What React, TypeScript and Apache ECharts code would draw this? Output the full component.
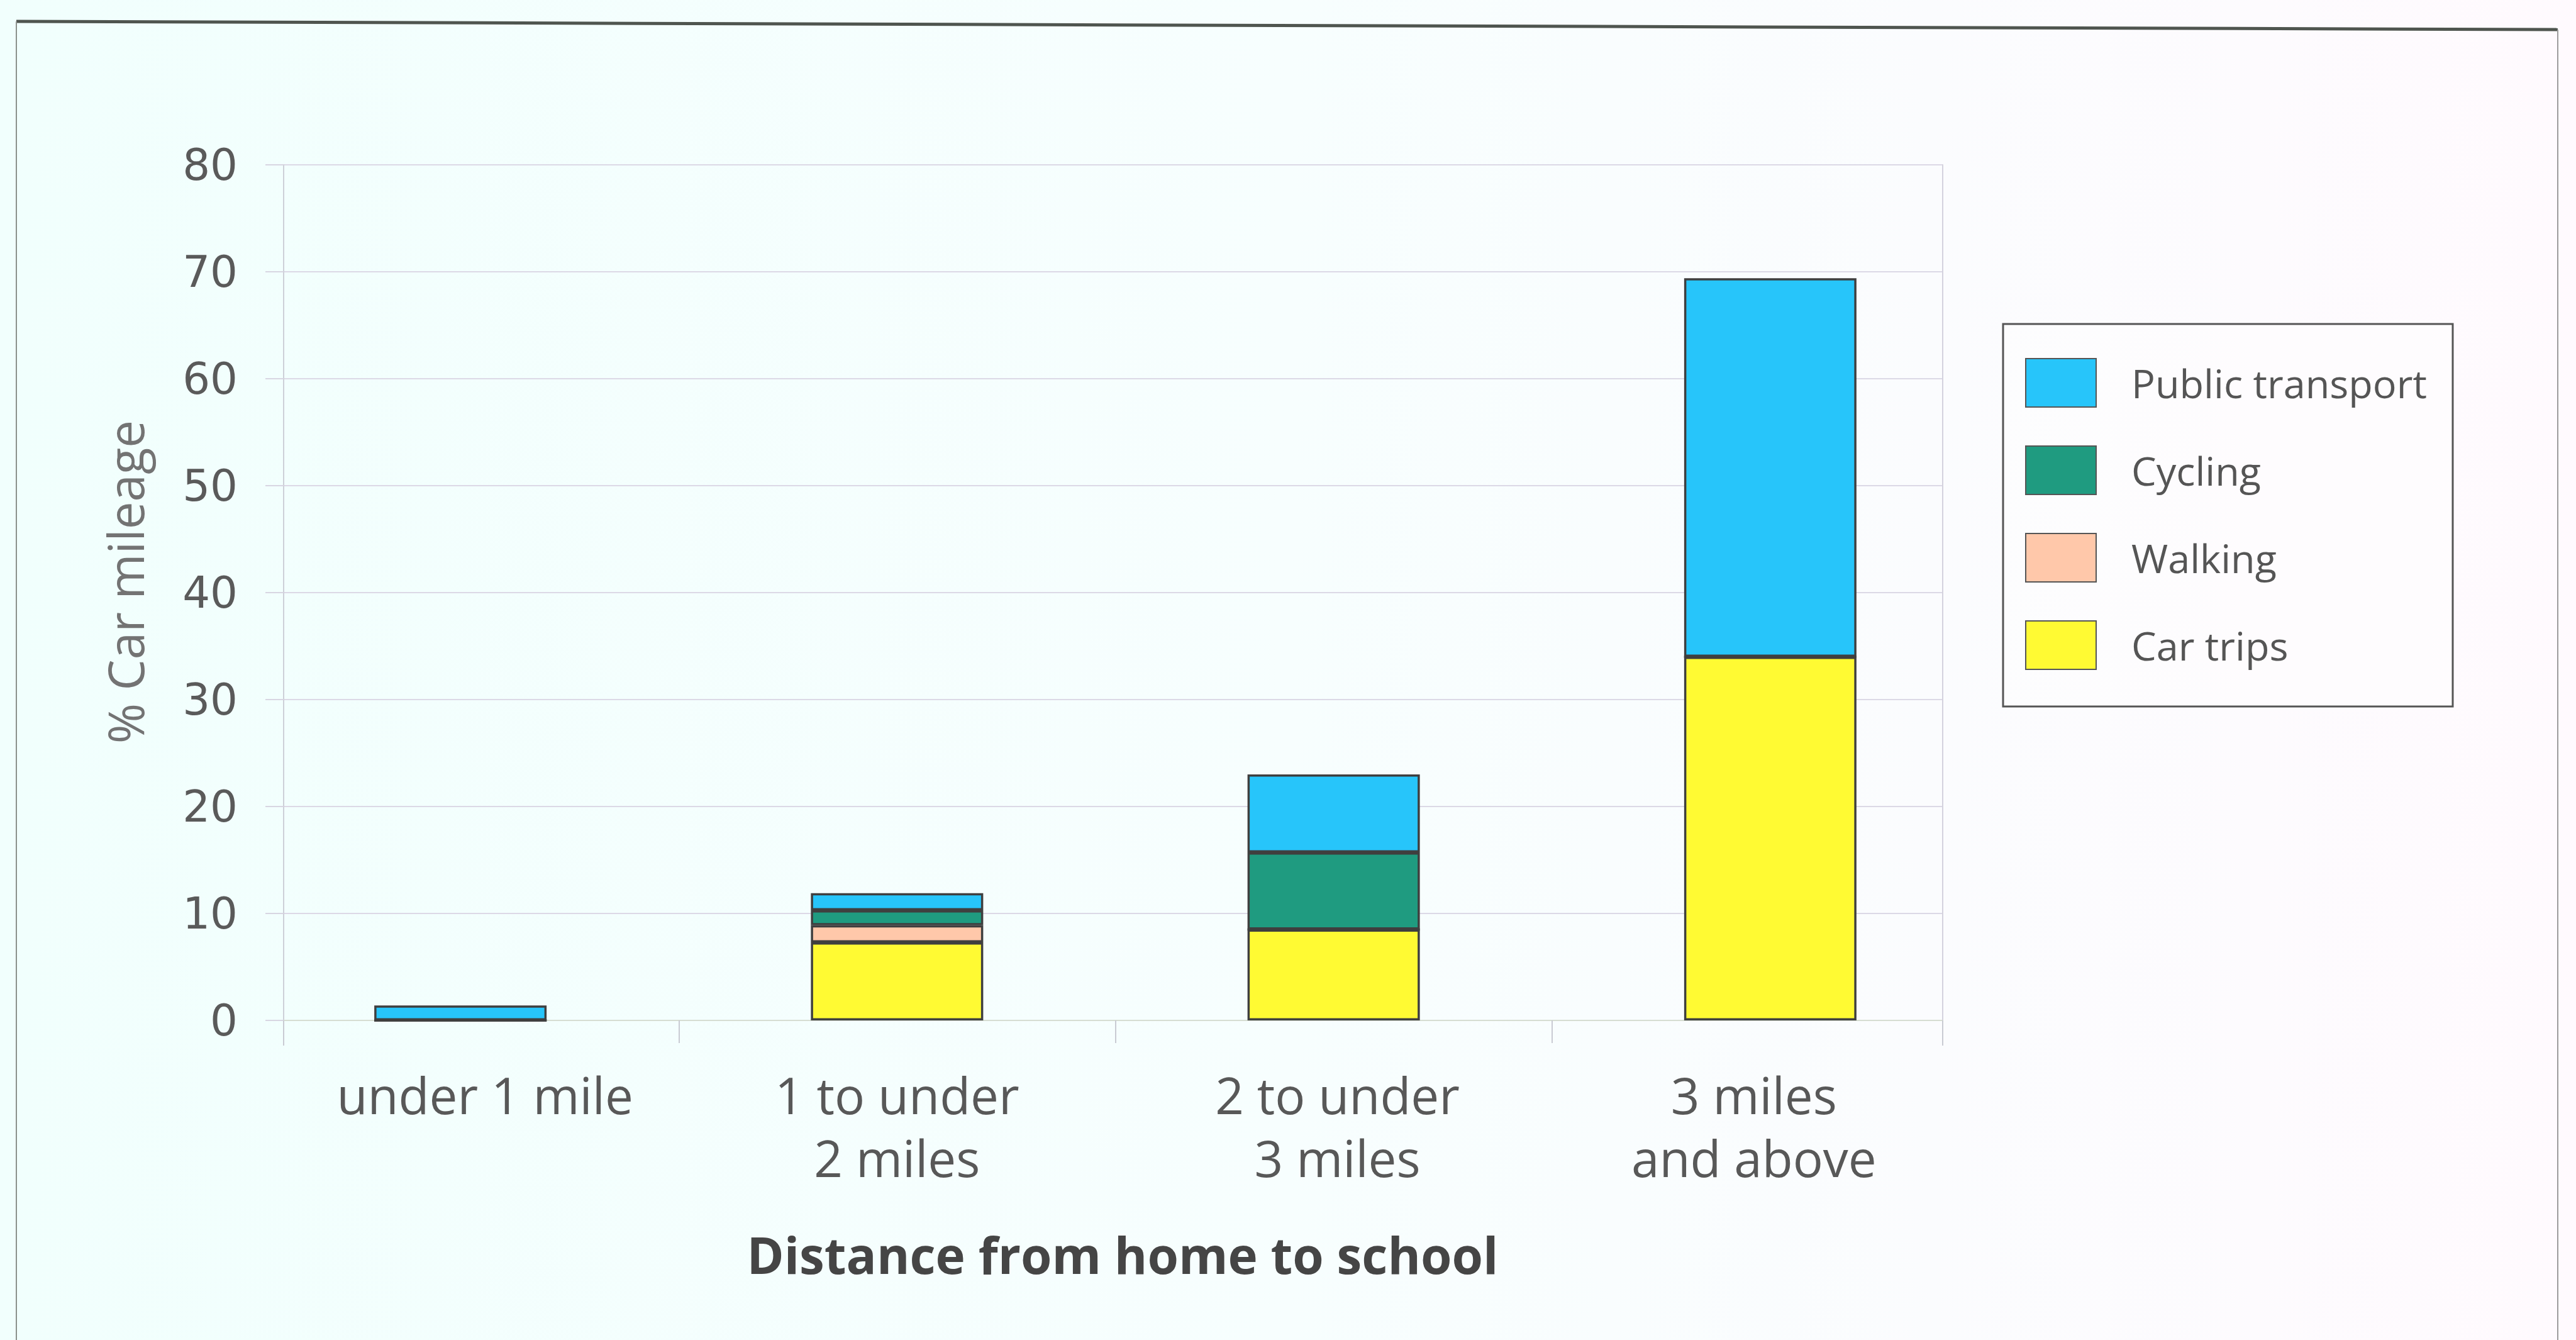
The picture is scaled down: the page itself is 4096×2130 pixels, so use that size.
import React, { useEffect, useRef } from "react";
import * as echarts from "echarts";

// Distance bands (x axis)
const categories = [
  "under 1 mile",
  "1 to under\n2 miles",
  "2 to under\n3 miles",
  "3 miles\nand above",
];

// % of car mileage, stacked from the bottom up
const carTrips = [0, 7.3, 8.5, 34.0];
const walking = [0, 1.6, 0, 0];
const cycling = [0, 1.4, 7.2, 0];
const publicTransport = [1.4, 1.6, 7.3, 35.4];

const legendOrder = ["Public transport", "Cycling", "Walking", "Car trips"];

const yMin = 0;
const yMax = 80;
const yStep = 10;

// horizontal nudge of each category label (px, + = right)
const labelShift = [39, 0, 6, -26];

const FONT = "'Open Sans', 'DejaVu Sans', sans-serif";
const BORDER = "#3f3f3f";

export default function App() {
  const ref = useRef<HTMLDivElement>(null);

  useEffect(() => {
    if (!ref.current) return;
    const chart = echarts.init(ref.current, undefined, { renderer: "svg" });

    const barSeries = (name: string, data: number[], color: string) => ({
      name,
      type: "bar",
      stack: "mileage",
      xAxisIndex: 1,
      yAxisIndex: 2,
      data,
      barWidth: 274,
      itemStyle: { color, borderColor: BORDER, borderWidth: 3.5 },
      emphasis: { disabled: true },
    });

    const categoryData = categories.map((c, i) => {
      const s = labelShift[i];
      return {
        value: c,
        textStyle: {
          padding: s >= 0 ? [0, 0, 0, 2 * s] : [0, -2 * s, 0, 0],
        },
      };
    });

    chart.setOption({
      animation: false,
      backgroundColor: {
        type: "linear",
        x: 0,
        y: 0,
        x2: 1,
        y2: 0,
        colorStops: [
          { offset: 0, color: "#F1FFFD" },
          { offset: 0.5, color: "#F7FEFE" },
          { offset: 1, color: "#FFFAFE" },
        ],
      },
      grid: [
        // frame for gridlines and value axis
        { left: 451, right: 1007, top: 262, bottom: 508, outerBoundsMode: "none" },
        // band layout for the bars
        { left: 385, right: 934, top: 262, bottom: 508, outerBoundsMode: "none" },
      ],
      xAxis: [
        {
          gridIndex: 0,
          type: "value",
          position: "bottom",
          min: 0,
          max: 1,
          axisLine: { show: true, lineStyle: { color: "#D6DDD2", width: 2 } },
          axisTick: {
            show: true,
            customValues: [0, 1],
            length: 40,
            lineStyle: { color: "#C9CBD3", width: 2 },
          },
          axisLabel: { show: false },
          splitLine: { show: false },
        },
        {
          gridIndex: 1,
          type: "category",
          position: "bottom",
          data: categoryData,
          axisLine: { show: false },
          axisTick: { show: false },
          axisLabel: {
            fontFamily: FONT,
            fontSize: 80,
            lineHeight: 100,
            color: "#585858",
            margin: 67,
            interval: 0,
          },
        },
        {
          gridIndex: 1,
          type: "value",
          position: "bottom",
          min: 0,
          max: 4,
          axisLine: { show: false },
          axisTick: {
            show: true,
            customValues: [1, 2, 3],
            length: 36,
            lineStyle: { color: "#C9CBD3", width: 2 },
          },
          axisLabel: { show: false },
          splitLine: { show: false },
        },
      ],
      yAxis: [
        {
          gridIndex: 0,
          type: "value",
          position: "left",
          min: yMin,
          max: yMax,
          interval: yStep,
          name: "% Car mileage",
          nameLocation: "middle",
          nameRotate: 90,
          nameGap: 213,
          nameTextStyle: {
            fontFamily: FONT,
            fontSize: 78,
            color: "#737373",
            padding: [0, 0, 0, 34],
          },
          axisLine: { show: true, lineStyle: { color: "#CDD0D8", width: 2 } },
          axisTick: { show: true, length: 29, lineStyle: { color: "#D8D6E2", width: 2 } },
          axisLabel: {
            fontFamily: "'DejaVu Sans', sans-serif",
            fontSize: 69,
            color: "#5a5a5a",
            margin: 73,
          },
          splitLine: { show: true, lineStyle: { color: "#DCD9E6", width: 2 } },
        },
        {
          gridIndex: 0,
          type: "value",
          position: "right",
          min: yMin,
          max: yMax,
          axisLine: { show: true, lineStyle: { color: "#D4D2DE", width: 2 } },
          axisTick: { show: false },
          axisLabel: { show: false },
          splitLine: { show: false },
        },
        {
          gridIndex: 1,
          type: "value",
          min: yMin,
          max: yMax,
          interval: yStep,
          show: false,
          splitLine: { show: false },
        },
      ],
      legend: {
        data: legendOrder,
        orient: "vertical",
        left: 3220,
        top: 569,
        padding: 0,
        itemWidth: 112,
        itemHeight: 77,
        itemGap: 60,
        icon: "rect",
        itemStyle: { borderColor: "#555555", borderWidth: 2 },
        textStyle: {
          fontFamily: FONT,
          fontSize: 63,
          lineHeight: 62,
          color: "#555555",
          padding: [0, 0, 14, 51],
        },
        selectedMode: false,
      },
      graphic: [
        {
          type: "line",
          silent: true,
          shape: { x1: 26, y1: 34, x2: 4067, y2: 47 },
          style: { stroke: "#4f554f", lineWidth: 5 },
        },
        {
          type: "line",
          silent: true,
          shape: { x1: 26, y1: 34, x2: 26, y2: 2130 },
          style: { stroke: "#8c918c", lineWidth: 2 },
        },
        {
          type: "line",
          silent: true,
          shape: { x1: 4067, y1: 47, x2: 4067, y2: 2130 },
          style: { stroke: "#9c9c9c", lineWidth: 2 },
        },
        {
          type: "rect",
          silent: true,
          z: -1,
          shape: { x: 3185, y: 515, width: 715, height: 608 },
          style: { fill: "rgba(255,255,255,0.35)", stroke: "#555555", lineWidth: 3 },
        },
        {
          type: "text",
          silent: true,
          style: {
            text: "Distance from home to school",
            x: 1785,
            y: 1993,
            textAlign: "center",
            textVerticalAlign: "middle",
            fontFamily: FONT,
            fontWeight: "bold",
            fontSize: 80,
            fill: "#454545",
          },
        },
      ],
      series: [
        barSeries("Car trips", carTrips, "#FFFA33"),
        barSeries("Walking", walking, "#FFC8AA"),
        barSeries("Cycling", cycling, "#1F9B80"),
        barSeries("Public transport", publicTransport, "#27C5FA"),
      ],
    });

    return () => chart.dispose();
  }, []);

  return (
    <div
      ref={ref}
      style={{ position: "fixed", left: 0, top: 0, width: 4096, height: 2130 }}
    />
  );
}
